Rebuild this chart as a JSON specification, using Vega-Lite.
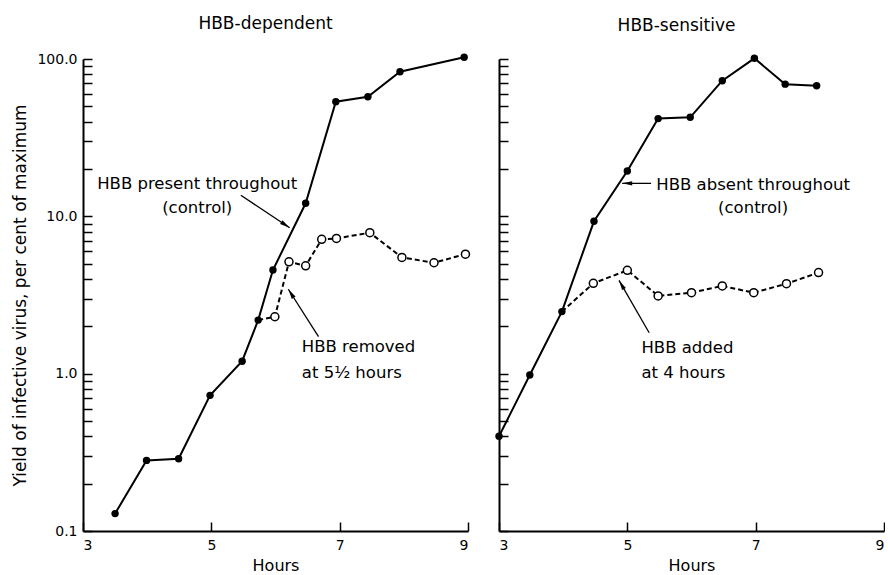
{
  "$schema": "https://vega.github.io/schema/vega-lite/v6.json",
  "background": "white",
  "padding": {"left": 11, "top": 15, "right": 0, "bottom": 0},
  "bounds": "flush",
  "spacing": 31,
  "config": {
    "view": {"stroke": null},
    "font": "DejaVu Sans",
    "axis": {
      "domainColor": "black", "domainWidth": 2,
      "tickColor": "black", "tickWidth": 1.5, "tickSize": -9,
      "labelColor": "black", "labelFont": "DejaVu Sans", "labelFontSize": 14, "labelPadding": 15,
      "titleColor": "black", "titleFont": "DejaVu Sans", "titleFontSize": 17, "titleFontWeight": "normal",
      "grid": false, "labelOverlap": false, "labelBound": false
    },
    "axisX": {"labelPadding": 16, "titleFontSize": 16, "titlePadding": 5},
    "title": {"font": "DejaVu Sans", "fontSize": 17, "fontWeight": "normal", "color": "black", "offset": 19}
  },
  "datasets": {
    "series": [
      {"panel": "dep", "series": "control", "hours": 3.5, "yield": 0.129},
      {"panel": "dep", "series": "control", "hours": 3.99, "yield": 0.281},
      {"panel": "dep", "series": "control", "hours": 4.49, "yield": 0.288},
      {"panel": "dep", "series": "control", "hours": 4.98, "yield": 0.728},
      {"panel": "dep", "series": "control", "hours": 5.48, "yield": 1.2},
      {"panel": "dep", "series": "control", "hours": 5.73, "yield": 2.19},
      {"panel": "dep", "series": "control", "hours": 5.96, "yield": 4.56},
      {"panel": "dep", "series": "control", "hours": 6.47, "yield": 12.1},
      {"panel": "dep", "series": "control", "hours": 6.94, "yield": 53.5},
      {"panel": "dep", "series": "control", "hours": 7.44, "yield": 57.6},
      {"panel": "dep", "series": "control", "hours": 7.94, "yield": 83},
      {"panel": "dep", "series": "control", "hours": 8.94, "yield": 102.5},
      {"panel": "dep", "series": "treated", "hours": 5.73, "yield": 2.19},
      {"panel": "dep", "series": "treated", "hours": 5.99, "yield": 2.3},
      {"panel": "dep", "series": "treated", "hours": 6.21, "yield": 5.14},
      {"panel": "dep", "series": "treated", "hours": 6.47, "yield": 4.85},
      {"panel": "dep", "series": "treated", "hours": 6.72, "yield": 7.14},
      {"panel": "dep", "series": "treated", "hours": 6.95, "yield": 7.24},
      {"panel": "dep", "series": "treated", "hours": 7.47, "yield": 7.87},
      {"panel": "dep", "series": "treated", "hours": 7.97, "yield": 5.48},
      {"panel": "dep", "series": "treated", "hours": 8.47, "yield": 5.07},
      {"panel": "dep", "series": "treated", "hours": 8.96, "yield": 5.75},
      {"panel": "sens", "series": "control", "hours": 3.0, "yield": 0.4},
      {"panel": "sens", "series": "control", "hours": 3.48, "yield": 0.98},
      {"panel": "sens", "series": "control", "hours": 3.98, "yield": 2.48},
      {"panel": "sens", "series": "control", "hours": 4.48, "yield": 9.3},
      {"panel": "sens", "series": "control", "hours": 5.0, "yield": 19.4},
      {"panel": "sens", "series": "control", "hours": 5.48, "yield": 41.8},
      {"panel": "sens", "series": "control", "hours": 5.98, "yield": 42.6},
      {"panel": "sens", "series": "control", "hours": 6.48, "yield": 72.8},
      {"panel": "sens", "series": "control", "hours": 6.98, "yield": 101},
      {"panel": "sens", "series": "control", "hours": 7.46, "yield": 69.2},
      {"panel": "sens", "series": "control", "hours": 7.95, "yield": 67.6},
      {"panel": "sens", "series": "treated", "hours": 3.98, "yield": 2.48},
      {"panel": "sens", "series": "treated", "hours": 4.47, "yield": 3.75},
      {"panel": "sens", "series": "treated", "hours": 5.0, "yield": 4.54},
      {"panel": "sens", "series": "treated", "hours": 5.48, "yield": 3.12},
      {"panel": "sens", "series": "treated", "hours": 6.0, "yield": 3.27},
      {"panel": "sens", "series": "treated", "hours": 6.48, "yield": 3.61},
      {"panel": "sens", "series": "treated", "hours": 6.97, "yield": 3.27},
      {"panel": "sens", "series": "treated", "hours": 7.48, "yield": 3.73},
      {"panel": "sens", "series": "treated", "hours": 7.98, "yield": 4.39}
    ],
    "arrows": [
      {"panel": "dep", "id": "a1", "hours": 5.46, "yield": 13.6, "hours2": 6.22, "yield2": 8.47},
      {"panel": "dep", "id": "a2", "hours": 6.67, "yield": 1.72, "hours2": 6.2, "yield2": 3.44},
      {"panel": "sens", "id": "b1", "hours": 5.37, "yield": 16.2, "hours2": 4.92, "yield2": 16.2},
      {"panel": "sens", "id": "b2", "hours": 5.34, "yield": 1.82, "hours2": 4.87, "yield2": 3.92}
    ],
    "notes": [
      {"panel": "dep", "kind": "control", "hours": 4.78, "yield": 14.9, "text": "HBB present throughout"},
      {"panel": "dep", "kind": "control", "hours": 4.78, "yield": 10.45, "text": "(control)"},
      {"panel": "dep", "kind": "treated", "hours": 6.41, "yield": 1.38, "text": "HBB removed"},
      {"panel": "dep", "kind": "treated", "hours": 6.41, "yield": 0.94, "text": "at 5½ hours"},
      {"panel": "sens", "kind": "control", "hours": 6.96, "yield": 14.8, "text": "HBB absent throughout"},
      {"panel": "sens", "kind": "control", "hours": 6.96, "yield": 10.5, "text": "(control)"},
      {"panel": "sens", "kind": "treated", "hours": 5.22, "yield": 1.36, "text": "HBB added"},
      {"panel": "sens", "kind": "treated", "hours": 5.22, "yield": 0.94, "text": "at 4 hours"}
    ]
  },
  "hconcat": [
    {
      "width": 385, "height": 472,
      "title": {"text": "HBB-dependent", "dx": -10},
      "layer": [
        {
          "data": {"name": "series"},
          "transform": [{"filter": "datum.panel == 'dep' && datum.series == 'control'"}],
          "mark": {"type": "line", "color": "black", "strokeWidth": 2},
          "encoding": {
            "x": {"field": "hours", "type": "quantitative", "scale": {"domain": [3, 9], "nice": false, "zero": false},
                  "axis": {"title": "Hours", "values": [3, 5, 7, 9], "format": "d"}},
            "y": {"field": "yield", "type": "quantitative", "scale": {"type": "log", "domain": [0.1, 100], "nice": false},
                  "axis": {"title": "Yield of infective virus, per cent of maximum", "titlePadding": 7,
                           "values": [0.1, 0.2, 0.3, 0.4, 0.5, 0.6, 0.7, 0.8, 0.9, 1, 2, 3, 4, 5, 6, 7, 8, 9, 10, 20, 30, 40, 50, 60, 70, 80, 90, 100],
                           "labelExpr": "datum.value == 0.1 || datum.value == 1 || datum.value == 10 || datum.value == 100 ? format(datum.value, '.1f') : ''"}}
          }
        },
        {
          "data": {"name": "series"},
          "transform": [{"filter": "datum.panel == 'dep' && datum.series == 'treated'"}],
          "mark": {"type": "line", "color": "black", "strokeWidth": 2, "strokeDash": [5, 3]},
          "encoding": {"x": {"field": "hours", "type": "quantitative"}, "y": {"field": "yield", "type": "quantitative"}}
        },
        {
          "data": {"name": "series"},
          "transform": [{"filter": "datum.panel == 'dep' && datum.series == 'treated' && datum.hours > 5.8"}],
          "mark": {"type": "point", "shape": "circle", "filled": true, "fill": "white", "stroke": "black", "strokeWidth": 1.5, "size": 64, "opacity": 1},
          "encoding": {"x": {"field": "hours", "type": "quantitative"}, "y": {"field": "yield", "type": "quantitative"}}
        },
        {
          "data": {"name": "series"},
          "transform": [{"filter": "datum.panel == 'dep' && datum.series == 'control'"}],
          "mark": {"type": "point", "shape": "circle", "filled": true, "color": "black", "size": 55, "opacity": 1},
          "encoding": {"x": {"field": "hours", "type": "quantitative"}, "y": {"field": "yield", "type": "quantitative"}}
        },
        {
          "data": {"name": "arrows"},
          "transform": [{"filter": "datum.panel == 'dep'"}],
          "mark": {"type": "rule", "color": "black", "strokeWidth": 1.3},
          "encoding": {
            "x": {"field": "hours", "type": "quantitative"}, "y": {"field": "yield", "type": "quantitative"},
            "x2": {"field": "hours2"}, "y2": {"field": "yield2"}
          }
        },
        {
          "data": {"name": "arrows"},
          "transform": [{"filter": "datum.id == 'a1'"}],
          "mark": {"type": "point", "shape": "M0,0L-0.22,1L0.22,1Z", "filled": true, "color": "black", "size": 400, "angle": 123.6, "opacity": 1},
          "encoding": {"x": {"field": "hours2", "type": "quantitative"}, "y": {"field": "yield2", "type": "quantitative"}}
        },
        {
          "data": {"name": "arrows"},
          "transform": [{"filter": "datum.id == 'a2'"}],
          "mark": {"type": "point", "shape": "M0,0L-0.22,1L0.22,1Z", "filled": true, "color": "black", "size": 400, "angle": 327.7, "opacity": 1},
          "encoding": {"x": {"field": "hours2", "type": "quantitative"}, "y": {"field": "yield2", "type": "quantitative"}}
        },
        {
          "data": {"name": "notes"},
          "transform": [{"filter": "datum.panel == 'dep' && datum.kind == 'control'"}],
          "mark": {"type": "text", "align": "center", "baseline": "alphabetic", "fontSize": 16.5, "color": "black"},
          "encoding": {"x": {"field": "hours", "type": "quantitative"}, "y": {"field": "yield", "type": "quantitative"}, "text": {"field": "text"}}
        },
        {
          "data": {"name": "notes"},
          "transform": [{"filter": "datum.panel == 'dep' && datum.kind == 'treated'"}],
          "mark": {"type": "text", "align": "left", "baseline": "alphabetic", "fontSize": 16.5, "color": "black"},
          "encoding": {"x": {"field": "hours", "type": "quantitative"}, "y": {"field": "yield", "type": "quantitative"}, "text": {"field": "text"}}
        }
      ]
    },
    {
      "width": 385, "height": 472,
      "title": {"text": "HBB-sensitive", "dx": -15},
      "layer": [
        {
          "data": {"name": "series"},
          "transform": [{"filter": "datum.panel == 'sens' && datum.series == 'control'"}],
          "mark": {"type": "line", "color": "black", "strokeWidth": 2},
          "encoding": {
            "x": {"field": "hours", "type": "quantitative", "scale": {"domain": [3, 9], "nice": false, "zero": false},
                  "axis": {"title": "Hours", "values": [3, 5, 7, 9], "format": "d"}},
            "y": {"field": "yield", "type": "quantitative", "scale": {"type": "log", "domain": [0.1, 100], "nice": false},
                  "axis": {"title": null, "labels": false,
                           "values": [0.1, 0.2, 0.3, 0.4, 0.5, 0.6, 0.7, 0.8, 0.9, 1, 2, 3, 4, 5, 6, 7, 8, 9, 10, 20, 30, 40, 50, 60, 70, 80, 90, 100]}}
          }
        },
        {
          "data": {"name": "series"},
          "transform": [{"filter": "datum.panel == 'sens' && datum.series == 'treated'"}],
          "mark": {"type": "line", "color": "black", "strokeWidth": 2, "strokeDash": [5, 3]},
          "encoding": {"x": {"field": "hours", "type": "quantitative"}, "y": {"field": "yield", "type": "quantitative"}}
        },
        {
          "data": {"name": "series"},
          "transform": [{"filter": "datum.panel == 'sens' && datum.series == 'treated' && datum.hours > 4.1"}],
          "mark": {"type": "point", "shape": "circle", "filled": true, "fill": "white", "stroke": "black", "strokeWidth": 1.5, "size": 64, "opacity": 1},
          "encoding": {"x": {"field": "hours", "type": "quantitative"}, "y": {"field": "yield", "type": "quantitative"}}
        },
        {
          "data": {"name": "series"},
          "transform": [{"filter": "datum.panel == 'sens' && datum.series == 'control'"}],
          "mark": {"type": "point", "shape": "circle", "filled": true, "color": "black", "size": 55, "opacity": 1},
          "encoding": {"x": {"field": "hours", "type": "quantitative"}, "y": {"field": "yield", "type": "quantitative"}}
        },
        {
          "data": {"name": "arrows"},
          "transform": [{"filter": "datum.panel == 'sens'"}],
          "mark": {"type": "rule", "color": "black", "strokeWidth": 1.3},
          "encoding": {
            "x": {"field": "hours", "type": "quantitative"}, "y": {"field": "yield", "type": "quantitative"},
            "x2": {"field": "hours2"}, "y2": {"field": "yield2"}
          }
        },
        {
          "data": {"name": "arrows"},
          "transform": [{"filter": "datum.id == 'b1'"}],
          "mark": {"type": "point", "shape": "M0,0L-0.22,1L0.22,1Z", "filled": true, "color": "black", "size": 400, "angle": 270, "opacity": 1},
          "encoding": {"x": {"field": "hours2", "type": "quantitative"}, "y": {"field": "yield2", "type": "quantitative"}}
        },
        {
          "data": {"name": "arrows"},
          "transform": [{"filter": "datum.id == 'b2'"}],
          "mark": {"type": "point", "shape": "M0,0L-0.22,1L0.22,1Z", "filled": true, "color": "black", "size": 400, "angle": 330.2, "opacity": 1},
          "encoding": {"x": {"field": "hours2", "type": "quantitative"}, "y": {"field": "yield2", "type": "quantitative"}}
        },
        {
          "data": {"name": "notes"},
          "transform": [{"filter": "datum.panel == 'sens' && datum.kind == 'control'"}],
          "mark": {"type": "text", "align": "center", "baseline": "alphabetic", "fontSize": 16.5, "color": "black"},
          "encoding": {"x": {"field": "hours", "type": "quantitative"}, "y": {"field": "yield", "type": "quantitative"}, "text": {"field": "text"}}
        },
        {
          "data": {"name": "notes"},
          "transform": [{"filter": "datum.panel == 'sens' && datum.kind == 'treated'"}],
          "mark": {"type": "text", "align": "left", "baseline": "alphabetic", "fontSize": 16.5, "color": "black"},
          "encoding": {"x": {"field": "hours", "type": "quantitative"}, "y": {"field": "yield", "type": "quantitative"}, "text": {"field": "text"}}
        }
      ]
    }
  ]
}
